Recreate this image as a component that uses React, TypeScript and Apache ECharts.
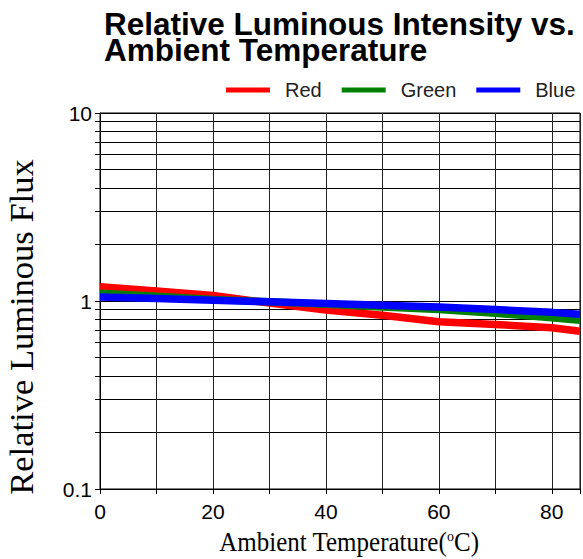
import React, { useEffect, useRef } from "react";
import * as echarts from "echarts";

const temps = [0, 10, 20, 30, 40, 50, 60, 70, 80, 85];
const redValues = [1.19, 1.13, 1.07, 0.975, 0.895, 0.84, 0.775, 0.75, 0.72, 0.69];
const greenValues = [1.1, 1.06, 1.02, 0.99, 0.96, 0.93, 0.9, 0.86, 0.815, 0.79];
const blueValues = [1.05, 1.03, 1.01, 0.99, 0.97, 0.95, 0.93, 0.9, 0.87, 0.85];
const xLabelValues = [0, 20, 40, 60, 80];
const yTickValues = [
  0.1, 0.2, 0.3, 0.4, 0.5, 0.6, 0.7, 0.8, 0.9,
  1, 2, 3, 4, 5, 6, 7, 8, 9, 10,
];
const yLabelValues = [0.1, 1, 10];
const seriesNames = ["Red", "Green", "Blue"];
const seriesColors = ["#ff0000", "#008000", "#0000ff"];

export default function App() {
  const ref = useRef<HTMLDivElement>(null);
  useEffect(() => {
    document.body.style.margin = "0";
    if (!ref.current) return;
    const chart = echarts.init(ref.current, null, { renderer: "svg" });
    const allValues = [redValues, greenValues, blueValues];
    chart.setOption({
      animation: false,
      title: {
        text: "Relative Luminous Intensity vs.\nAmbient Temperature",
        left: 104,
        top: 11,
        padding: 0,
        textStyle: {
          fontSize: 31.5,
          fontWeight: "bold",
          fontFamily: "Liberation Sans",
          color: "#000",
          lineHeight: 26,
        },
      },
      legend: {
        data: seriesNames.map((n) => ({ name: n, icon: "rect" })),
        left: 226,
        top: 80,
        itemWidth: 44,
        itemHeight: 5,
        itemGap: 20,
        padding: 0,
        textStyle: {
          fontSize: 20,
          fontFamily: "Liberation Sans",
          color: "#222",
          padding: [0, 0, 0, 10],
        },
      },
      grid: {
        left: 100,
        right: 3,
        top: 113,
        bottom: 70,
        show: true,
        borderColor: "#000",
        borderWidth: 1,
        containLabel: false,
      },
      xAxis: {
        type: "value",
        min: 0,
        max: 85,
        interval: 10,
        axisLine: { show: true, lineStyle: { color: "#000", width: 1 } },
        axisTick: { show: true, inside: false, length: 5, lineStyle: { color: "#000" } },
        axisLabel: {
          customValues: xLabelValues,
          fontSize: 21,
          fontFamily: "Liberation Sans",
          color: "#000",
          margin: 12,
        },
        splitLine: { show: true, lineStyle: { color: "#222", width: 1 } },
      },
      yAxis: {
        type: "log",
        logBase: 10,
        min: 0.1,
        max: 10,
        axisLine: { show: true, lineStyle: { color: "#000", width: 1 } },
        axisTick: {
          show: true,
          inside: false,
          length: 5,
          customValues: yTickValues,
          lineStyle: { color: "#000" },
        },
        axisLabel: {
          customValues: yLabelValues,
          formatter: (v: number) => String(Math.round(v * 10) / 10),
          fontSize: 21,
          fontFamily: "Liberation Sans",
          color: "#000",
          margin: 8,
        },
        splitLine: { show: true, lineStyle: { color: "#000", width: 1 } },
      },
      graphic: [
        {
          type: "text",
          x: 21,
          y: 327,
          rotation: Math.PI / 2,
          style: {
            text: "Relative Luminous Flux",
            fontSize: 34.5,
            fontFamily: "Liberation Serif",
            fill: "#000",
            align: "center",
            verticalAlign: "middle",
          },
        },
        {
          type: "text",
          x: 349,
          y: 542,
          scaleY: 1.1,
          style: {
            text: "{a|Ambient Temperature(}{s|o}{a|C)}",
            fill: "#000",
            align: "center",
            verticalAlign: "middle",
            rich: {
              a: { fontSize: 25, fontFamily: "Liberation Serif", lineHeight: 25, fill: "#000" },
              s: {
                fontSize: 14,
                fontFamily: "Liberation Serif",
                lineHeight: 14,
                padding: [0, 0, 11, 0],
                fill: "#000",
              },
            },
          },
        },
      ],
      series: seriesNames.map((name, i) => ({
        name,
        type: "line",
        data: temps.map((t, j) => [t, allValues[i][j]]),
        symbol: "none",
        smooth: false,
        lineStyle: { color: seriesColors[i], width: 7.5 },
        itemStyle: { color: seriesColors[i] },
        z: 3 + i,
      })),
    });
    return () => chart.dispose();
  }, []);
  return <div ref={ref} style={{ width: 583, height: 559 }} />;
}
